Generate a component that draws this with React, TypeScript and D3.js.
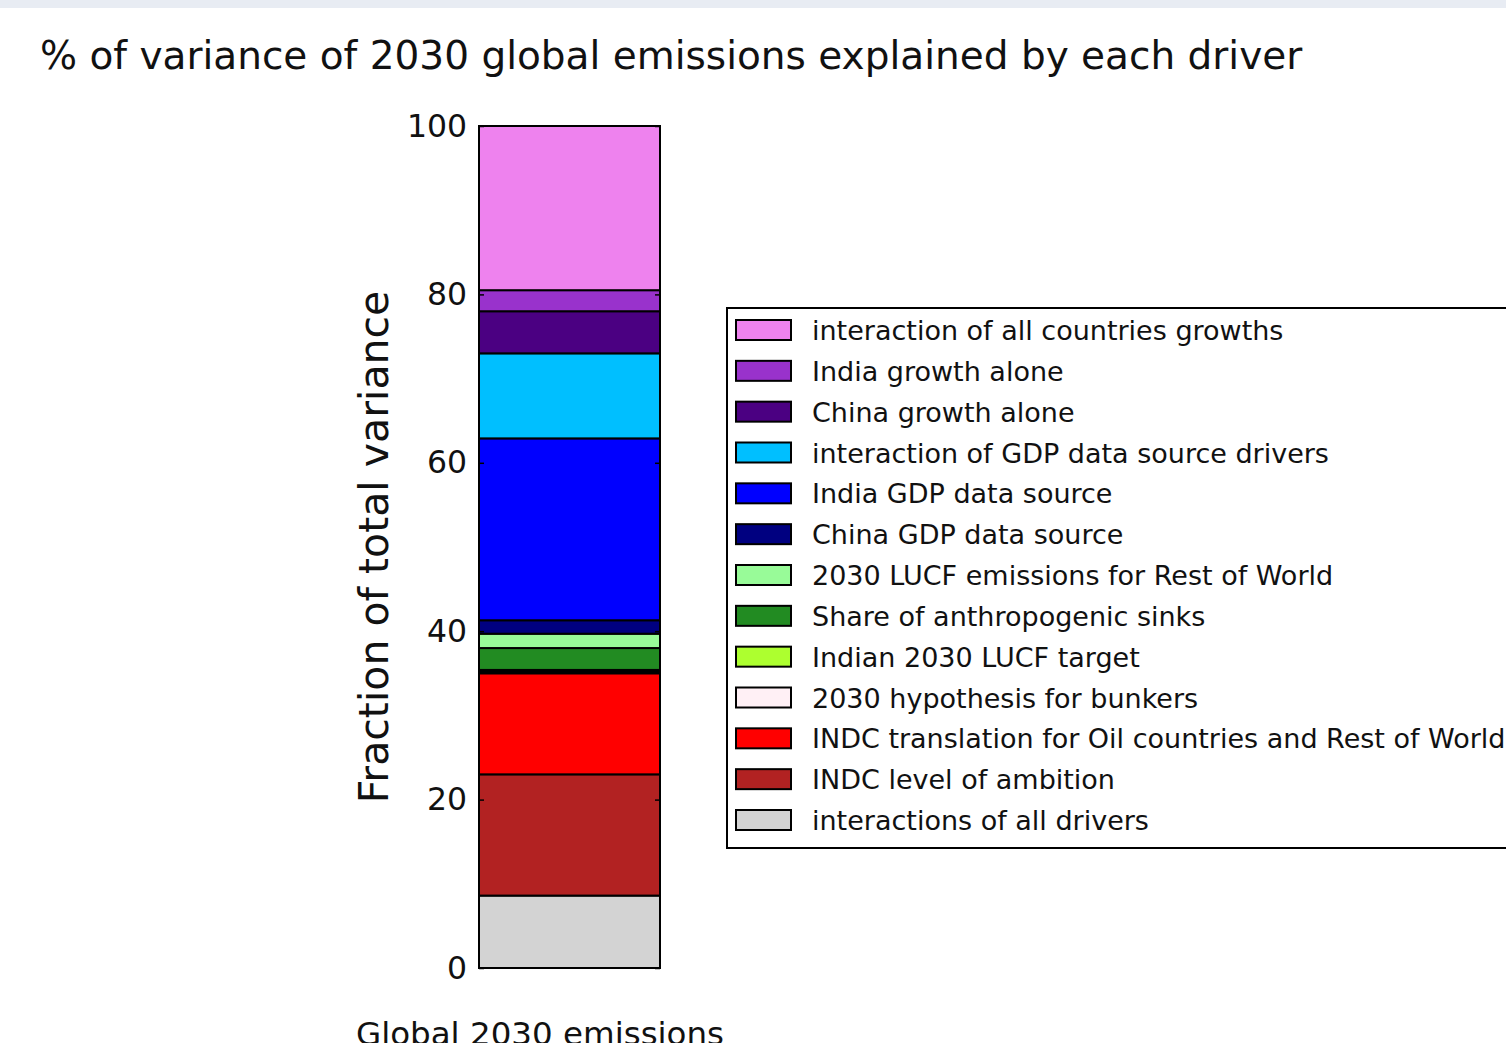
import * as d3 from 'd3';
import { useRef, useEffect } from 'react';

// stacked from the bottom up
const drivers: string[] = [
    "interactions of all drivers",
    "INDC level of ambition",
    "INDC translation for Oil countries and Rest of World",
    "2030 hypothesis for bunkers",
    "Indian 2030 LUCF target",
    "Share of anthropogenic sinks",
    "2030 LUCF emissions for Rest of World",
    "China GDP data source",
    "India GDP data source",
    "interaction of GDP data source drivers",
    "China growth alone",
    "India growth alone",
    "interaction of all countries growths",
];
const shares: number[] = [8.6, 14.4, 12.0, 0.2, 0.2, 2.6, 1.7, 1.6, 21.6, 10.1, 5.0, 2.5, 19.5];
const colors: string[] = [
    "#d3d3d3", "#b22222", "#ff0000", "#fff0f5", "#adff2f", "#228b22", "#98fb98",
    "#000080", "#0000ff", "#00bfff", "#4b0082", "#9932cc", "#ee82ee",
];
const yTicks: number[] = [0, 20, 40, 60, 80, 100];
const category = "Global 2030 emissions";

const FONT = "'DejaVu Sans', sans-serif";

const App = () => {
    const ref = useRef<SVGSVGElement>(null);

    useEffect(() => {
        if (!ref.current) return;
        const root = d3.select(ref.current);
        root.selectAll("*").remove();

        root.append("rect").attr("x", 0).attr("y", 0).attr("width", 1506).attr("height", 8).attr("fill", "#e8ecf3");

        root.append("text")
            .attr("x", 40).attr("y", 69)
            .style("font-family", FONT).style("font-size", "39px").attr("fill", "#111")
            .text("% of variance of 2030 global emissions explained by each driver");

        const plot = { left: 479, right: 660, top: 126, bottom: 968 };
        const y = d3.scaleLinear().domain([0, 100]).range([plot.bottom, plot.top]);
        const x = d3.scaleBand().domain([category]).range([plot.left, plot.right]).padding(0);

        let acc = 0;
        const stack = shares.map((v, i) => { const s = { y0: acc, y1: acc + v, color: colors[i] }; acc += v; return s; });

        root.append("g").selectAll("rect")
            .data(stack)
            .enter().append("rect")
            .attr("x", x(category)!)
            .attr("width", x.bandwidth())
            .attr("y", d => y(d.y1))
            .attr("height", d => y(d.y0) - y(d.y1))
            .attr("fill", d => d.color)
            .attr("stroke", "#000").attr("stroke-width", 2);

        // inward ticks, matplotlib classic style
        const left = root.append("g").attr("transform", `translate(${plot.left},0)`)
            .call(d3.axisLeft(y).tickValues(yTicks).tickSize(-5).tickPadding(12).tickFormat(d3.format("d")));
        const right = root.append("g").attr("transform", `translate(${plot.right},0)`)
            .call(d3.axisRight(y).tickValues(yTicks).tickSize(-5).tickFormat(() => ""));
        [left, right].forEach(g => {
            g.select(".domain").remove();
            g.selectAll("line").attr("stroke", "#000").attr("stroke-width", 1.5);
        });
        left.selectAll("text")
            .style("font-family", FONT).style("font-size", "31.5px").attr("fill", "#111");

        root.append("rect")
            .attr("x", plot.left).attr("y", plot.top)
            .attr("width", plot.right - plot.left).attr("height", plot.bottom - plot.top)
            .attr("fill", "none").attr("stroke", "#000").attr("stroke-width", 2);

        root.append("text")
            .attr("transform", "translate(388,547) rotate(-90)")
            .attr("text-anchor", "middle")
            .style("font-family", FONT).style("font-size", "41px").attr("fill", "#111")
            .text("Fraction of total variance");

        root.append("text")
            .attr("x", 540).attr("y", 1045)
            .attr("text-anchor", "middle")
            .style("font-family", FONT).style("font-size", "32.5px").attr("fill", "#111")
            .text(category);

        // legend, top entry = top of the stack
        const legend = root.append("g");
        legend.append("rect")
            .attr("x", 727).attr("y", 308).attr("width", 900).attr("height", 540)
            .attr("fill", "#fff").attr("stroke", "#000").attr("stroke-width", 2);
        const order = d3.range(drivers.length).reverse();
        const row = d3.scalePoint<number>().domain(order).range([330, 820]);
        const items = legend.selectAll("g.item").data(order).enter().append("g")
            .attr("transform", i => `translate(0,${row(i)})`);
        items.append("rect")
            .attr("x", 736).attr("y", -10).attr("width", 55).attr("height", 20)
            .attr("fill", i => colors[i]).attr("stroke", "#000").attr("stroke-width", 2);
        items.append("text")
            .attr("x", 812).attr("y", 10)
            .style("font-family", FONT).style("font-size", "27px").attr("fill", "#111")
            .text(i => drivers[i]);
    }, []);

    return (
        <svg ref={ref} width={1506} height={1043}
            style={{ position: "fixed", left: 0, top: 0, background: "#fff" }} />
    );
};

export default App;
